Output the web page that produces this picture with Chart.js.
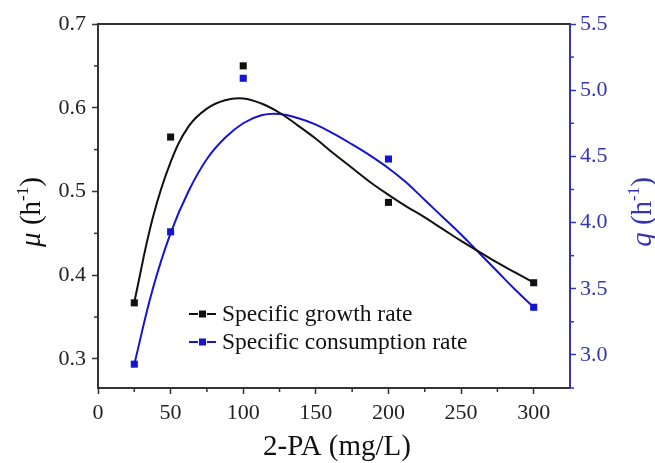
<!DOCTYPE html>
<html>
<head>
<meta charset="utf-8">
<script src="https://cdn.jsdelivr.net/npm/chart.js@4.4.1/dist/chart.umd.min.js"></script>
<style>
  html, body { margin: 0; padding: 0; background: #ffffff; }
  #wrap { position: relative; width: 655px; height: 463px; }
</style>
</head>
<body>
<div id="wrap"><canvas id="c" width="655" height="463"></canvas></div>
<script>
// ---------- data ----------
const xPoints   = [25, 50, 100, 200, 300];
const muPoints  = [0.367, 0.565, 0.650, 0.487, 0.391];
const qPoints   = [2.93, 3.93, 5.09, 4.48, 3.36];

const curveX    = [25, 37.5, 50, 62.5, 75, 87.5, 100, 112.5, 125, 137.5, 150, 162.5, 175, 187.5, 200, 212.5, 225, 237.5, 250, 262.5, 275, 287.5, 300];
const muCurve   = [0.368, 0.467, 0.535, 0.578, 0.599, 0.609, 0.611, 0.605, 0.594, 0.579, 0.563, 0.545, 0.528, 0.511, 0.496, 0.482, 0.469, 0.455, 0.441, 0.428, 0.415, 0.403, 0.391];
const qCurve    = [2.93, 3.49, 3.92, 4.24, 4.48, 4.64, 4.75, 4.81, 4.82, 4.79, 4.74, 4.67, 4.59, 4.505, 4.41, 4.30, 4.17, 4.04, 3.91, 3.77, 3.63, 3.49, 3.36];

const xTicks    = [0, 50, 100, 150, 200, 250, 300];
const xMinor    = [25, 75, 125, 175, 225, 275];
const muTicks   = [0.3, 0.4, 0.5, 0.6, 0.7];
const muMinor   = [0.35, 0.45, 0.55, 0.65];
const qTicks    = [3.0, 3.5, 4.0, 4.5, 5.0, 5.5];
const qMinor    = [2.75, 3.25, 3.75, 4.25, 4.75, 5.25];

const seriesLabels = ['Specific growth rate', 'Specific consumption rate'];
const xTitle = '2-PA (mg/L)';
const muSymbol = 'μ';
const qSymbol = 'q';
const unitText = 'h';
const unitSup = '-1';

// ---------- styles ----------
const FONT = "'Liberation Serif', 'Times New Roman', serif";
const AXIS = '#333333';
const BLACK = '#111111';
const BLUE = '#1414d2';
const BLUE_AXIS = '#3535b0';

const toXY = (xs, ys) => xs.map((x, i) => ({ x: x, y: ys[i] }));

const fixTicks = arr => scale => { scale.ticks = arr.map(v => ({ value: v })); };

const minorTickPlugin = {
  id: 'minorTicks',
  afterDraw(chart) {
    const ctx = chart.ctx;
    const { x, yMu, yQ } = chart.scales;
    const ca = chart.chartArea;
    ctx.save();
    // top frame line
    ctx.strokeStyle = AXIS;
    ctx.lineWidth = 2;
    ctx.beginPath();
    ctx.moveTo(ca.left - 1, ca.top);
    ctx.lineTo(ca.right, ca.top);
    ctx.stroke();
    ctx.lineWidth = 1.5;
    ctx.strokeStyle = AXIS;
    xMinor.forEach(v => {
      const px = x.getPixelForValue(v);
      ctx.beginPath(); ctx.moveTo(px, ca.bottom); ctx.lineTo(px, ca.bottom + 4); ctx.stroke();
    });
    muMinor.forEach(v => {
      const py = yMu.getPixelForValue(v);
      ctx.beginPath(); ctx.moveTo(ca.left, py); ctx.lineTo(ca.left - 4, py); ctx.stroke();
    });
    ctx.strokeStyle = BLUE_AXIS;
    qMinor.forEach(v => {
      const py = yQ.getPixelForValue(v);
      ctx.beginPath(); ctx.moveTo(ca.right, py); ctx.lineTo(ca.right + 4, py); ctx.stroke();
    });
    ctx.restore();
  }
};

function drawRotatedTitle(ctx, cx, baseX, sym, color, size) {
  ctx.save();
  ctx.fillStyle = color;
  const fItal = 'italic ' + size + 'px ' + FONT;
  const fReg = size + 'px ' + FONT;
  const fSup = Math.round(size * 0.6) + 'px ' + FONT;
  ctx.font = fItal; const w1 = ctx.measureText(sym).width;
  ctx.font = fReg; const w2 = ctx.measureText(' (' + unitText).width;
  ctx.font = fSup; const w3 = ctx.measureText(unitSup).width;
  ctx.font = fReg; const w4 = ctx.measureText(')').width;
  const total = w1 + w2 + w3 + w4;
  ctx.translate(baseX, cx);
  ctx.rotate(-Math.PI / 2);
  ctx.textBaseline = 'alphabetic';
  ctx.textAlign = 'left';
  let p = -total / 2;
  ctx.font = fItal; ctx.fillText(sym, p, 0); p += w1;
  ctx.font = fReg; ctx.fillText(' (' + unitText, p, 0); p += w2;
  ctx.font = fSup; ctx.fillText(unitSup, p, -size * 0.42); p += w3;
  ctx.font = fReg; ctx.fillText(')', p, 0);
  ctx.restore();
}

const annotationPlugin = {
  id: 'titlesLegend',
  afterDraw(chart) {
    const ctx = chart.ctx;
    const ca = chart.chartArea;
    ctx.save();
    // x title
    ctx.fillStyle = BLACK;
    ctx.font = '29px ' + FONT;
    ctx.textAlign = 'center';
    ctx.textBaseline = 'alphabetic';
    ctx.fillText(xTitle, (ca.left + ca.right) / 2 + 3, 455);
    ctx.restore();
    drawRotatedTitle(ctx, 212, 40, muSymbol, BLACK, 29);
    drawRotatedTitle(ctx, 212, 651, qSymbol, BLUE_AXIS, 29);
    // legend
    const rows = [
      { y: 314, color: BLACK, label: seriesLabels[0] },
      { y: 342, color: BLUE, label: seriesLabels[1] }
    ];
    ctx.save();
    rows.forEach(r => {
      ctx.strokeStyle = r.color;
      ctx.lineWidth = 2;
      ctx.beginPath(); ctx.moveTo(189, r.y); ctx.lineTo(198, r.y); ctx.stroke();
      ctx.beginPath(); ctx.moveTo(207, r.y); ctx.lineTo(216, r.y); ctx.stroke();
      ctx.fillStyle = r.color;
      ctx.fillRect(199, r.y - 3.5, 7, 7);
      ctx.fillStyle = BLACK;
      ctx.font = '23.5px ' + FONT;
      ctx.textAlign = 'left';
      ctx.textBaseline = 'middle';
      ctx.fillText(r.label, 222, r.y + 1);
    });
    ctx.restore();
  }
};

new Chart(document.getElementById('c'), {
  type: 'scatter',
  data: {
    datasets: [
      {
        label: seriesLabels[0] + ' fit',
        type: 'line',
        data: toXY(curveX, muCurve),
        yAxisID: 'yMu',
        borderColor: BLACK,
        borderWidth: 2,
        pointRadius: 0,
        fill: false,
        tension: 0.4
      },
      {
        label: seriesLabels[1] + ' fit',
        type: 'line',
        data: toXY(curveX, qCurve),
        yAxisID: 'yQ',
        borderColor: BLUE,
        borderWidth: 2,
        pointRadius: 0,
        fill: false,
        tension: 0.4
      },
      {
        label: seriesLabels[0],
        data: toXY(xPoints, muPoints),
        yAxisID: 'yMu',
        pointStyle: 'rect',
        pointRadius: 5,
        backgroundColor: BLACK,
        borderColor: BLACK,
        borderWidth: 0,
        showLine: false
      },
      {
        label: seriesLabels[1],
        data: toXY(xPoints, qPoints),
        yAxisID: 'yQ',
        pointStyle: 'rect',
        pointRadius: 5,
        backgroundColor: BLUE,
        borderColor: BLUE,
        borderWidth: 0,
        showLine: false
      }
    ]
  },
  options: {
    responsive: false,
    animation: false,
    devicePixelRatio: 1,
    layout: { padding: { left: 0, right: 0, top: 24, bottom: 0 } },
    plugins: { legend: { display: false }, tooltip: { enabled: false }, title: { display: false } },
    scales: {
      x: {
        type: 'linear',
        position: 'bottom',
        min: 0, max: 325,
        afterBuildTicks: fixTicks(xTicks),
        afterFit: s => { s.height = 75; },
        ticks: { autoSkip: false, maxRotation: 0, padding: 6, color: '#222', font: { family: FONT, size: 22 } },
        grid: { drawOnChartArea: false, drawTicks: true, tickLength: 6, tickColor: AXIS, tickWidth: 1.5 },
        border: { display: true, color: AXIS, width: 2 }
      },
      yMu: {
        type: 'linear',
        position: 'left',
        min: 0.2653, max: 0.7,
        afterBuildTicks: fixTicks(muTicks),
        afterFit: s => { s.width = 98; },
        ticks: { autoSkip: false, padding: 6, color: '#222', font: { family: FONT, size: 22 }, callback: v => v.toFixed(1) },
        grid: { drawOnChartArea: false, drawTicks: true, tickLength: 6, tickColor: AXIS, tickWidth: 1.5 },
        border: { display: true, color: AXIS, width: 2 }
      },
      yQ: {
        type: 'linear',
        position: 'right',
        min: 2.75, max: 5.5,
        afterBuildTicks: fixTicks(qTicks),
        afterFit: s => { s.width = 85; },
        ticks: { autoSkip: false, padding: 4, color: BLUE_AXIS, font: { family: FONT, size: 22 }, callback: v => v.toFixed(1) },
        grid: { drawOnChartArea: false, drawTicks: true, tickLength: 6, tickColor: BLUE_AXIS, tickWidth: 1.5 },
        border: { display: true, color: BLUE_AXIS, width: 2 }
      }
    }
  },
  plugins: [minorTickPlugin, annotationPlugin]
});
</script>
</body>
</html>
